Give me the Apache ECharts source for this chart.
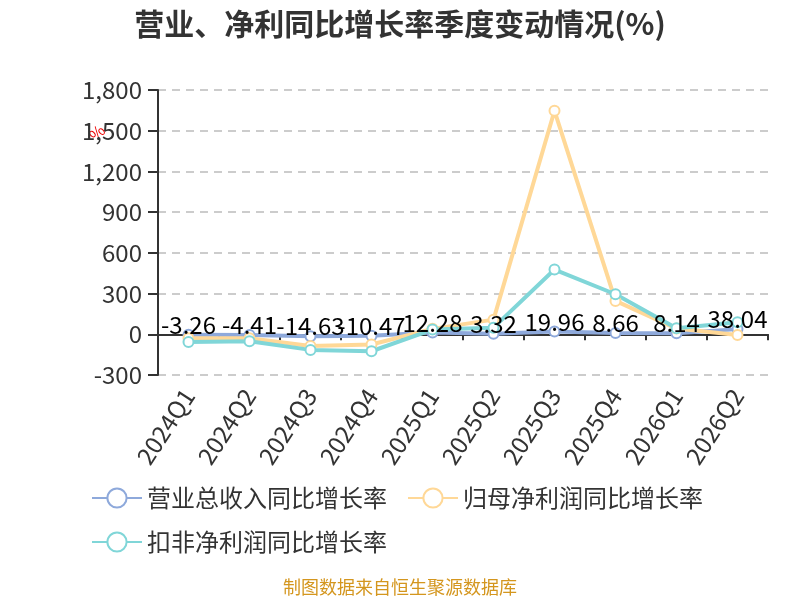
<!DOCTYPE html>
<html>
<head>
<meta charset="utf-8">
<script src="https://cdn.jsdelivr.net/npm/echarts@6/dist/echarts.min.js"></script>
<style>
  html, body { margin: 0; padding: 0; background: #fff; }
  #chart { width: 800px; height: 600px; }
</style>
</head>
<body>
<div id="chart"></div>
<script>
// quarters on the x axis
let quarters = ["2024Q1", "2024Q2", "2024Q3", "2024Q4", "2025Q1", "2025Q2", "2025Q3", "2025Q4", "2026Q1", "2026Q2"];

// yoy growth, %
let revenueGrowth = [-3.26, -4.41, -14.63, -10.47, 12.28, 3.32, 19.96, 8.66, 8.14, 38.04];
let netProfitGrowth = [-30, -30, -86, -75, 40, 108, 1647, 246, 42, -5];
let deductedProfitGrowth = [-56, -52, -115, -125, 35, 49, 477, 295, 44, 88];

let seriesNames = ["营业总收入同比增长率", "归母净利润同比增长率", "扣非净利润同比增长率"];
let yTicks = { min: -300, max: 1800, step: 300 };

let font = "'Noto Sans CJK SC', 'Noto Sans', sans-serif";
let chart = echarts.init(document.getElementById("chart"));

function lineSeries(name, values, color, showLabel) {
    return {
        name: name,
        type: "line",
        data: values,
        symbol: "emptyCircle",
        symbolSize: 10,
        lineStyle: { width: 4, color: color },
        itemStyle: { color: color, borderWidth: 2 },
        label: {
            show: showLabel,
            position: "top",
            distance: -8,
            color: "#000",
            fontSize: 24,
            fontFamily: font
        }
    };
}

let option = {
    animation: false,
    title: {
        text: "营业、净利同比增长率季度变动情况(%)",
        left: "center",
        top: 4,
        textStyle: { fontSize: 30, fontWeight: "bold", color: "#333", fontFamily: font }
    },
    legend: {
        data: seriesNames,
        left: 86,
        top: 481,
        width: 660,
        itemWidth: 50,
        itemHeight: 24,
        itemGap: 20,
        textStyle: { fontSize: 24, color: "#333", fontFamily: font }
    },
    grid: { left: 158, right: 32, top: 90, bottom: 225 },
    xAxis: {
        type: "category",
        data: quarters,
        axisLine: { onZero: true, lineStyle: { color: "#333", width: 2 } },
        axisTick: { show: true, alignWithLabel: false, length: 6, lineStyle: { color: "#333", width: 2 } },
        axisLabel: {
            interval: 0,
            rotate: 57,
            fontSize: 24,
            color: "#333",
            fontFamily: font,
            margin: 16
        }
    },
    yAxis: {
        type: "value",
        min: yTicks.min,
        max: yTicks.max,
        interval: yTicks.step,
        axisLine: { show: true, lineStyle: { color: "#333", width: 2 } },
        axisTick: { show: true, length: 10, lineStyle: { color: "#333", width: 2 } },
        axisLabel: { fontSize: 24, color: "#333", fontFamily: font, margin: 16 },
        splitLine: { lineStyle: { type: [8, 6], color: "#ccc", width: 2 } }
    },
    graphic: [
        {
            type: "text",
            left: 86,
            top: 122,
            rotation: Math.PI / 4,
            style: { text: "%", fill: "#e00", font: "16px " + font }
        },
        {
            type: "text",
            left: "center",
            top: 578,
            style: { text: "制图数据来自恒生聚源数据库", fill: "#d4961e", font: "18px " + font }
        }
    ],
    series: [
        lineSeries(seriesNames[0], revenueGrowth, "#8ea9db", true),
        lineSeries(seriesNames[1], netProfitGrowth, "#ffd897", false),
        lineSeries(seriesNames[2], deductedProfitGrowth, "#80d6d8", false)
    ]
};

chart.setOption(option);
</script>
</body>
</html>
